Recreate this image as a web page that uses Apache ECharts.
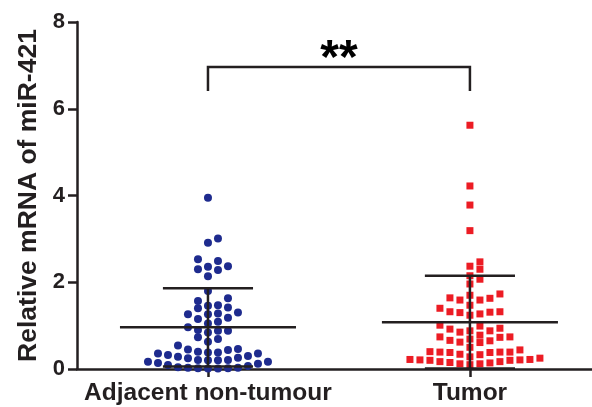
<!DOCTYPE html>
<html><head><meta charset="utf-8">
<script src="https://cdn.jsdelivr.net/npm/echarts@6/dist/echarts.min.js"></script>
<style>html,body{margin:0;padding:0;background:#fff}#c{width:592px;height:407px}</style>
</head><body><div id="c"></div>
<script>
// ---- data ----
const categories = ['Adjacent non-tumour', 'Tumor'];
const adjacentValues = [3.95, 3.01, 2.91, 2.53, 2.49, 2.37, 2.36, 2.30, 2.28, 2.14,
  1.80, 1.63, 1.57, 1.47, 1.46, 1.42, 1.40, 1.30, 1.28, 1.26, 1.26, 1.18, 1.15, 1.09, 1.05,
  0.96, 0.90, 0.88, 0.88, 0.84, 0.73, 0.69, 0.63, 0.54, 0.46,
  0.45, 0.44, 0.40, 0.38, 0.38, 0.36, 0.36, 0.32, 0.30, 0.28, 0.26, 0.25,
  0.21, 0.21, 0.20, 0.20, 0.17, 0.17, 0.14, 0.12, 0.09, 0.07,
  0.04, 0.03, 0.03, 0.02, 0.02, 0.01, 0.01];
const tumorValues = [5.62, 4.22, 3.78, 3.19,
  2.47, 2.37, 2.30, 2.15, 2.07, 1.96,
  1.73, 1.70, 1.64, 1.63, 1.59, 1.59,
  1.47, 1.40, 1.32, 1.32, 1.31, 1.30, 1.27, 1.24,
  1.01, 0.99, 0.94, 0.92, 0.88, 0.88, 0.85,
  0.78, 0.74, 0.74, 0.73, 0.69, 0.66, 0.65, 0.62, 0.61,
  0.50, 0.44, 0.40, 0.39, 0.39, 0.39, 0.38, 0.38, 0.34, 0.33,
  0.28, 0.25, 0.22, 0.22, 0.21, 0.21, 0.20, 0.20, 0.17, 0.17, 0.15, 0.14, 0.12, 0.12, 0.10];
const means = [0.96, 1.08];
const sds = [0.90, 1.07];
const yTicks = [0, 2, 4, 6, 8];
const significance = '**';

// ---- layout ----
const groupPos = [0.5, 1.5];
const X_MAX = 1.966;
const SLOT = 10 / 262;
const MIN_DY = 0.17;
const INK = '#231f20';
const FONT = '"Liberation Sans", Arial, Helvetica, sans-serif';

function swarm(values, center) {
  const sorted = values.slice().sort((a, b) => a - b);
  const cols = {};
  const out = [];
  for (const v of sorted) {
    for (let i = 0; ; i++) {
      const k = i === 0 ? 0 : (i % 2 === 1 ? (i + 1) / 2 : -i / 2);
      const col = cols[k] || (cols[k] = []);
      if (col.every(u => Math.abs(u - v) >= MIN_DY)) {
        col.push(v);
        out.push([center + k * SLOT, v]);
        break;
      }
    }
  }
  return out;
}

const chart = echarts.init(document.getElementById('c'), null, {renderer: 'canvas'});
const lineStyle = {color: INK, width: 2.5};

chart.setOption({
  animation: false,
  backgroundColor: '#fff',
  grid: {left: 77, right: 0, top: 22, bottom: 38},
  xAxis: {
    type: 'value', min: 0, max: X_MAX,
    axisLine: {show: true, lineStyle: lineStyle},
    splitLine: {show: false},
    axisTick: {show: true, customValues: groupPos, length: 8, lineStyle: lineStyle},
    axisLabel: {
      customValues: groupPos, margin: 12,
      formatter: v => categories[Math.round(v - 0.5)] || '',
      fontSize: 24.5, fontWeight: 'bold', color: INK, fontFamily: FONT
    }
  },
  yAxis: {
    type: 'value', min: yTicks[0], max: yTicks[yTicks.length - 1], interval: 2,
    name: 'Relative mRNA of miR-421', nameLocation: 'middle', nameGap: 33,
    nameTextStyle: {fontSize: 26.5, fontWeight: 'bold', color: INK, fontFamily: FONT},
    axisLine: {show: true, lineStyle: lineStyle},
    splitLine: {show: false},
    axisTick: {show: true, length: 9, lineStyle: lineStyle},
    axisLabel: {margin: 12, fontSize: 22, fontWeight: 'bold', color: INK, fontFamily: FONT}
  },
  series: [
    {
      type: 'scatter', symbol: 'circle', symbolSize: 8, z: 2,
      itemStyle: {color: '#1e2b8e', opacity: 1},
      data: swarm(adjacentValues, groupPos[0])
    },
    {
      type: 'scatter', symbol: 'rect', symbolSize: 7, z: 2,
      itemStyle: {color: '#ec1c24', opacity: 1},
      data: swarm(tumorValues, groupPos[1])
    },
    {
      type: 'custom', z: 5,
      data: means.map((m, i) => [groupPos[i], m, sds[i]]),
      encode: {x: 0, y: 1},
      renderItem: function (params, api) {
        const x = api.value(0), m = api.value(1), s = api.value(2);
        const W = 0.336, C = 0.172;
        const seg = (a, b) => ({type: 'line', shape: {x1: a[0], y1: a[1], x2: b[0], y2: b[1]}, style: {stroke: INK, lineWidth: 2.5}});
        return {type: 'group', children: [
          seg(api.coord([x - W, m]), api.coord([x + W, m])),
          seg(api.coord([x, m - s]), api.coord([x, m + s])),
          seg(api.coord([x - C, m + s]), api.coord([x + C, m + s])),
          seg(api.coord([x - C, m - s]), api.coord([x + C, m - s]))
        ]};
      }
    },
    {
      type: 'custom', z: 5,
      data: [[1.0, 6.96]],
      encode: {x: 0, y: 1},
      renderItem: function (params, api) {
        const top = 6.96, bot = 6.41;
        const pts = [api.coord([groupPos[0], bot]), api.coord([groupPos[0], top]),
                     api.coord([groupPos[1], top]), api.coord([groupPos[1], bot])];
        const t = api.coord([(groupPos[0] + groupPos[1]) / 2, 7.12]);
        return {type: 'group', children: [
          {type: 'polyline', shape: {points: pts}, style: {stroke: INK, lineWidth: 2.5, fill: null}},
          {type: 'text', x: t[0], y: t[1], style: {text: significance, font: 'bold 48px ' + FONT, fill: '#000', align: 'center', verticalAlign: 'middle'}}
        ]};
      }
    }
  ]
});
</script></body></html>
